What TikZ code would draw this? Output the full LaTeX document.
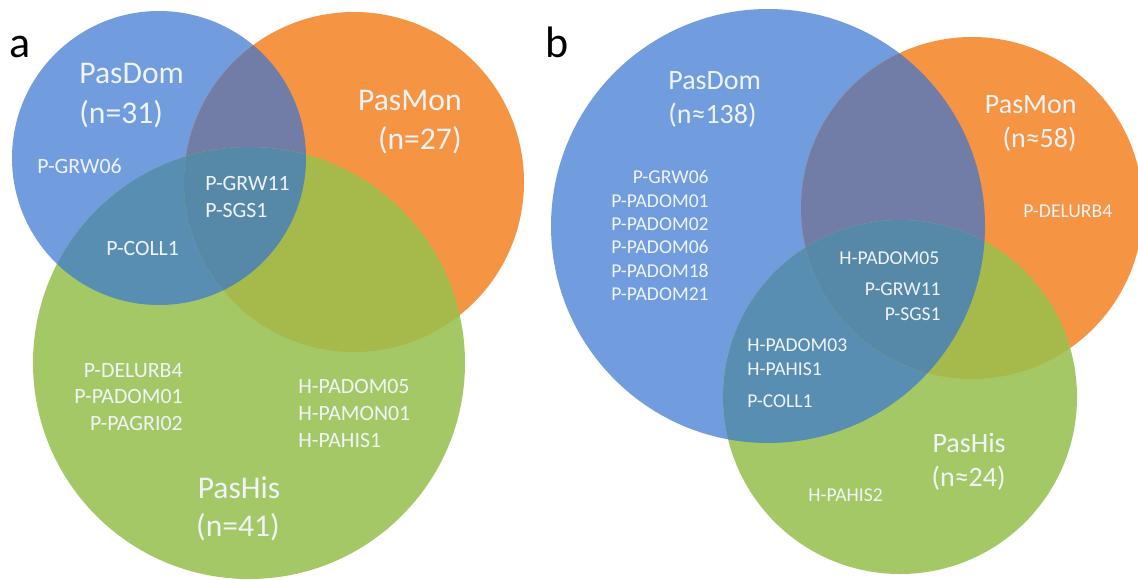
\documentclass[tikz,border=0pt]{standalone}
\usepackage{fontspec}
\setmainfont{Carlito}
\definecolor{blueC}{RGB}{113,156,222}
\definecolor{orangeC}{RGB}{245,148,66}
\definecolor{greenC}{RGB}{165,200,102}
\definecolor{BO}{RGB}{113,125,166}
\definecolor{BG}{RGB}{88,142,178}
\definecolor{OG}{RGB}{165,186,75}
\definecolor{BOG}{RGB}{86,136,168}
\definecolor{txt}{RGB}{240,243,248}
\tikzset{
  lbl/.style={font=\fontsize{9.8}{11}\selectfont, text=txt, inner sep=0pt},
  lblA/.style={font=\fontsize{10.9}{12}\selectfont, text=txt, inner sep=0pt},
  bigA/.style={font=\fontsize{15.8}{18}\selectfont, text=txt, inner sep=0pt},
  bigB/.style={font=\fontsize{14}{16}\selectfont, text=txt, inner sep=0pt},
  panel/.style={font=\fontsize{22}{25}\selectfont, text=black, inner sep=0pt}
}
\begin{document}
\begin{tikzpicture}[x=0.5pt,y=-0.5pt]
\useasboundingbox (0,0) rectangle (1138,579);
\fill[white] (0,0) rectangle (1138,579);
% ---------- panel a ----------
\coordinate (aB) at (159,158);
\coordinate (aO) at (354,182);
\coordinate (aG) at (249,363);
\fill[blueC] (aB) circle[radius=147];
\fill[orangeC] (aO) circle[radius=170];
\fill[greenC] (aG) circle[radius=216];
\begin{scope}\clip (aB) circle[radius=147]; \fill[BO] (aO) circle[radius=170];\end{scope}
\begin{scope}\clip (aB) circle[radius=147]; \fill[BG] (aG) circle[radius=216];\end{scope}
\begin{scope}\clip (aO) circle[radius=170]; \fill[OG] (aG) circle[radius=216];\end{scope}
\begin{scope}\clip (aB) circle[radius=147]; \clip (aO) circle[radius=170]; \fill[BOG] (aG) circle[radius=216];\end{scope}
% ---------- panel b ----------
\coordinate (bB) at (768,226);
\coordinate (bO) at (972,208);
\coordinate (bG) at (900,397);
\fill[blueC] (bB) circle[radius=217];
\fill[orangeC] (bO) circle[radius=171];
\fill[greenC] (bG) circle[radius=177];
\begin{scope}\clip (bB) circle[radius=217]; \fill[BO] (bO) circle[radius=171];\end{scope}
\begin{scope}\clip (bB) circle[radius=217]; \fill[BG] (bG) circle[radius=177];\end{scope}
\begin{scope}\clip (bO) circle[radius=171]; \fill[OG] (bG) circle[radius=177];\end{scope}
\begin{scope}\clip (bB) circle[radius=217]; \clip (bO) circle[radius=171]; \fill[BOG] (bG) circle[radius=177];\end{scope}
% ---------- labels a ----------
\node[panel, anchor=base] (la) at (20,57) {a};
\node[bigA, anchor=base west] (aDom) at (79,83) {PasDom};
\node[bigA, anchor=base west] (aDomN) at (79,123) {(n=31)};
\node[bigA, anchor=base east] (aMon) at (462,110) {PasMon};
\node[bigA, anchor=base east] (aMonN) at (462,149) {(n=27)};
\node[bigA, anchor=base] (aHis) at (239,498) {PasHis};
\node[bigA, anchor=base] (aHisN) at (238,536) {(n=41)};
\node[lblA, anchor=base west] (a1) at (37,173) {P-GRW06};
\node[lblA, anchor=base west] (a2) at (205,190) {P-GRW11};
\node[lblA, anchor=base west] (a3) at (205,217) {P-SGS1};
\node[lblA, anchor=base west] (a4) at (106,255) {P-COLL1};
\node[lblA, anchor=base east] (a5) at (183,377) {P-DELURB4};
\node[lblA, anchor=base east] (a6) at (183,403) {P-PADOM01};
\node[lblA, anchor=base east] (a7) at (183,430) {P-PAGRI02};
\node[lblA, anchor=base west] (a8) at (298,393) {H-PADOM05};
\node[lblA, anchor=base west] (a9) at (298,420) {H-PAMON01};
\node[lblA, anchor=base west] (a10) at (298,447) {H-PAHIS1};
% ---------- labels b ----------
\node[panel, anchor=base] (lb) at (557,57) {b};
\node[bigB, anchor=base west] (bDom) at (668,89) {PasDom};
\node[bigB, anchor=base west] (bDomN) at (668,123) {(n≈138)};
\node[bigB, anchor=base east] (bMon) at (1077,113) {PasMon};
\node[bigB, anchor=base east] (bMonN) at (1077,147) {(n≈58)};
\node[bigB, anchor=base east] (bHis) at (1006,452) {PasHis};
\node[bigB, anchor=base east] (bHisN) at (1006,486) {(n≈24)};
\node[lbl, anchor=base east] (b1) at (709,183) {P-GRW06};
\node[lbl, anchor=base east] (b2) at (709,207) {P-PADOM01};
\node[lbl, anchor=base east] (b3) at (709,230) {P-PADOM02};
\node[lbl, anchor=base east] (b4) at (709,253) {P-PADOM06};
\node[lbl, anchor=base east] (b5) at (709,277) {P-PADOM18};
\node[lbl, anchor=base east] (b6) at (709,300) {P-PADOM21};
\node[lbl, anchor=base west] (b7) at (1023,217) {P-DELURB4};
\node[lbl, anchor=base west] (b8) at (839,264) {H-PADOM05};
\node[lbl, anchor=base east] (b9) at (941,295) {P-GRW11};
\node[lbl, anchor=base east] (b10) at (941,320) {P-SGS1};
\node[lbl, anchor=base west] (b11) at (747,351) {H-PADOM03};
\node[lbl, anchor=base west] (b12) at (747,375) {H-PAHIS1};
\node[lbl, anchor=base west] (b13) at (747,407) {P-COLL1};
\node[lbl, anchor=base west] (b14) at (808,501) {H-PAHIS2};
\end{tikzpicture}
\end{document}
